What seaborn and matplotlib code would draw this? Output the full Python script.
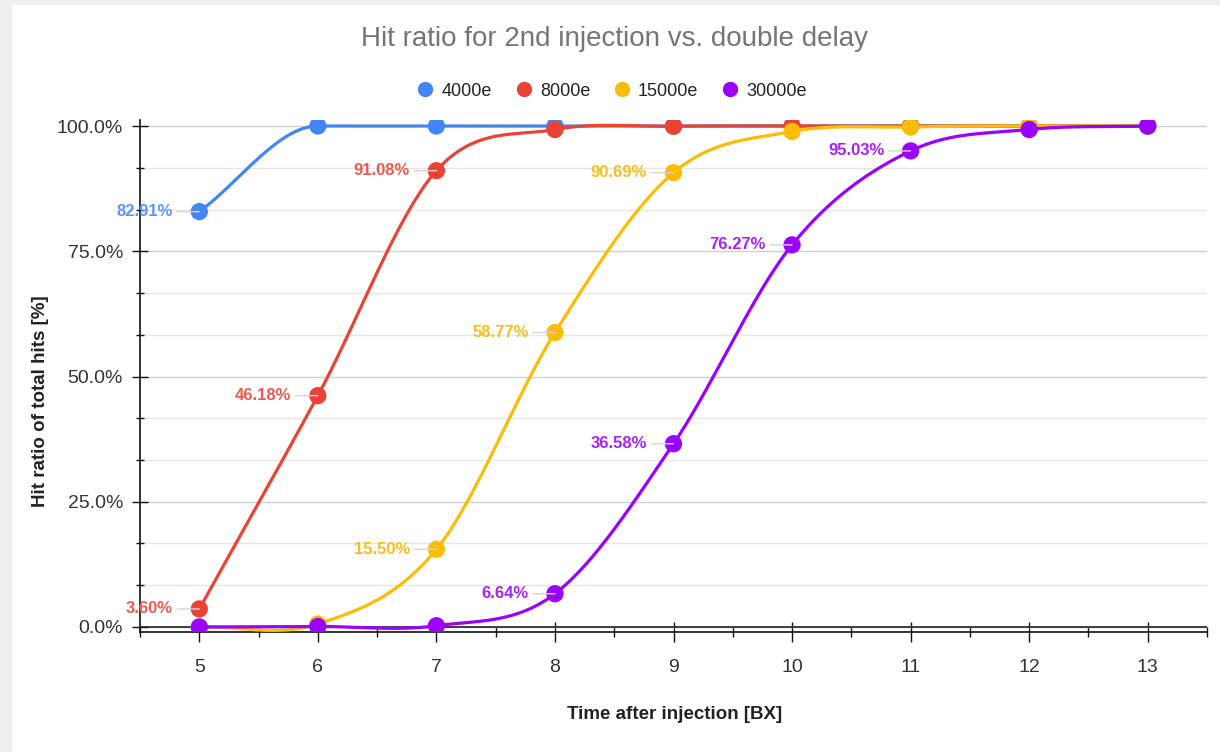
import numpy as np
import pandas as pd
import matplotlib
matplotlib.use("Agg")
import matplotlib.pyplot as plt
import seaborn as sns
from matplotlib.ticker import MultipleLocator, FuncFormatter
from matplotlib.lines import Line2D
from matplotlib.patches import Rectangle

# ---------------- data ----------------
x_bx = [5, 6, 7, 8, 9, 10, 11, 12, 13]
series_names = ["4000e", "8000e", "15000e", "30000e"]
hit_4000e = [82.91, 100.0, 100.0, 100.0, 100.0, 100.0, 100.0, 100.0, 100.0]
hit_8000e = [3.60, 46.18, 91.08, 99.3, 99.95, 100.0, 100.0, 100.0, 100.0]
hit_15000e = [0.0, 0.6, 15.50, 58.77, 90.69, 98.9, 99.8, 100.0, 100.0]
hit_30000e = [0.0, 0.1, 0.25, 6.64, 36.58, 76.27, 95.03, 99.3, 100.0]
labeled_x = {"4000e": [5], "8000e": [5, 6, 7], "15000e": [7, 8, 9], "30000e": [8, 9, 10, 11]}
series_values = [hit_4000e, hit_8000e, hit_15000e, hit_30000e]
colors = ["#4285F4", "#EA4335", "#FBBC04", "#9900FF"]
label_colors = ["#5B95F6", "#EE5A4E", "#F9BE1E", "#A522FF"]

title = "Hit ratio for 2nd injection vs. double delay"
xlabel = "Time after injection [BX]"
ylabel = "Hit ratio of total hits [%]"


def smooth(xs, ys, n=40):
    """Cubic Hermite curve through the points (flat tangent at local extrema), for rendering."""
    xs = np.asarray(xs, float)
    ys = np.asarray(ys, float)
    m = np.empty_like(ys)
    m[1:-1] = (ys[2:] - ys[:-2]) / (xs[2:] - xs[:-2])
    for i in range(1, len(ys) - 1):
        if (ys[i] - ys[i - 1]) * (ys[i + 1] - ys[i]) <= 0:
            m[i] = 0.0
    m[0] = (ys[1] - ys[0]) / (xs[1] - xs[0])
    m[-1] = (ys[-1] - ys[-2]) / (xs[-1] - xs[-2])
    ox, oy = [], []
    for i in range(len(xs) - 1):
        h = xs[i + 1] - xs[i]
        t = np.linspace(0, 1, n, endpoint=False)
        h00 = 2 * t**3 - 3 * t**2 + 1
        h10 = t**3 - 2 * t**2 + t
        h01 = -2 * t**3 + 3 * t**2
        h11 = t**3 - t**2
        ox.extend(xs[i] + t * h)
        oy.extend(h00 * ys[i] + h10 * h * m[i] + h01 * ys[i + 1] + h11 * h * m[i + 1])
    ox.append(xs[-1])
    oy.append(ys[-1])
    return np.array(ox), np.array(oy)


plt.rcParams["font.family"] = ["Liberation Sans", "DejaVu Sans"]

W, H = 1220, 752
fig = plt.figure(figsize=(W / 100, H / 100), dpi=100)
fig.patch.set_facecolor("#eeeeee")
fig.add_artist(Rectangle((12 / W, 0), 1 - 12 / W, 1 - 5 / H, transform=fig.transFigure,
                         facecolor="white", edgecolor="none", zorder=0))

ax = fig.add_axes([140 / W, 1 - 632 / H, 1067 / W, 512 / H])
ax.set_facecolor("none")

for k, (name, vals, col, lcol) in enumerate(zip(series_names, series_values, colors, label_colors)):
    sx, sy = smooth(x_bx, vals)
    curve = pd.DataFrame({"x": sx, "y": sy})
    pts = pd.DataFrame({"x": x_bx, "y": vals})
    sns.lineplot(data=curve, x="x", y="y", color=col, linewidth=2.3, sort=False,
                 ax=ax, zorder=3 + 2 * k, legend=False)
    sns.scatterplot(data=pts, x="x", y="y", color=col, s=155, edgecolor="none",
                    ax=ax, zorder=4 + 2 * k, legend=False)
    for xv, yv in zip(x_bx, vals):
        if xv in labeled_x[name]:
            ax.annotate(f"{yv:.2f}%", xy=(xv, yv), xytext=(-19, 0), textcoords="offset points",
                        ha="right", va="center", fontsize=12, fontweight="bold", color=lcol,
                        zorder=12,
                        arrowprops=dict(arrowstyle="-", color="#d5d5d5", lw=1,
                                        shrinkA=1, shrinkB=0))

ax.set_xlim(4.5, 13.5)
ax.set_ylim(-1.0, 101.2)

ax.xaxis.set_major_locator(MultipleLocator(1))
ax.xaxis.set_minor_locator(MultipleLocator(0.5))
ax.yaxis.set_major_locator(MultipleLocator(25))
ax.yaxis.set_minor_locator(MultipleLocator(25 / 3))
ax.yaxis.set_major_formatter(FuncFormatter(lambda v, p: f"{v:.1f}%"))

ax.grid(False)
ax.yaxis.grid(True, which="major", color="#cfcfcf", lw=1, zorder=0)
ax.yaxis.grid(True, which="minor", color="#e6e6e6", lw=1, zorder=0)
ax.axhline(0, color="#222222", lw=1.2, zorder=2)

for s in ["top", "right"]:
    ax.spines[s].set_visible(False)
for s in ["left", "bottom"]:
    ax.spines[s].set_color("#111111")
    ax.spines[s].set_linewidth(1.2)

ax.tick_params(axis="y", which="major", direction="inout", length=11.5, width=1,
               color="#111111", labelsize=14, labelcolor="#333333", pad=6.5)
ax.tick_params(axis="y", which="minor", direction="inout", length=6, width=1, color="#111111")
ax.tick_params(axis="x", which="major", direction="inout", length=14.5, width=1,
               color="#111111", labelsize=14, labelcolor="#333333", pad=12.5)
ax.tick_params(axis="x", which="minor", direction="inout", length=7.2, width=1, color="#111111")

ax.set_xlabel(xlabel, fontsize=13.5, fontweight="bold", color="#222222")
ax.set_ylabel(ylabel, fontsize=13.5, fontweight="bold", color="#222222")
ax.xaxis.set_label_coords(0.501, -0.144)
ax.yaxis.set_label_coords(-0.0853, 0.451)

fig.text(0.504, 1 - 39 / H, title, ha="center", va="center", fontsize=20, color="#757575")

handles = [Line2D([], [], marker="o", linestyle="none", color=c, markersize=10) for c in colors]
fig.legend(handles, series_names, loc="center", bbox_to_anchor=(0.502, 1 - 91 / H), ncol=4,
           frameon=False, fontsize=13, handlelength=0.8, handletextpad=0.5,
           columnspacing=1.35, labelcolor="#222222")

fig.savefig("out.png", dpi=100, facecolor=fig.get_facecolor())
